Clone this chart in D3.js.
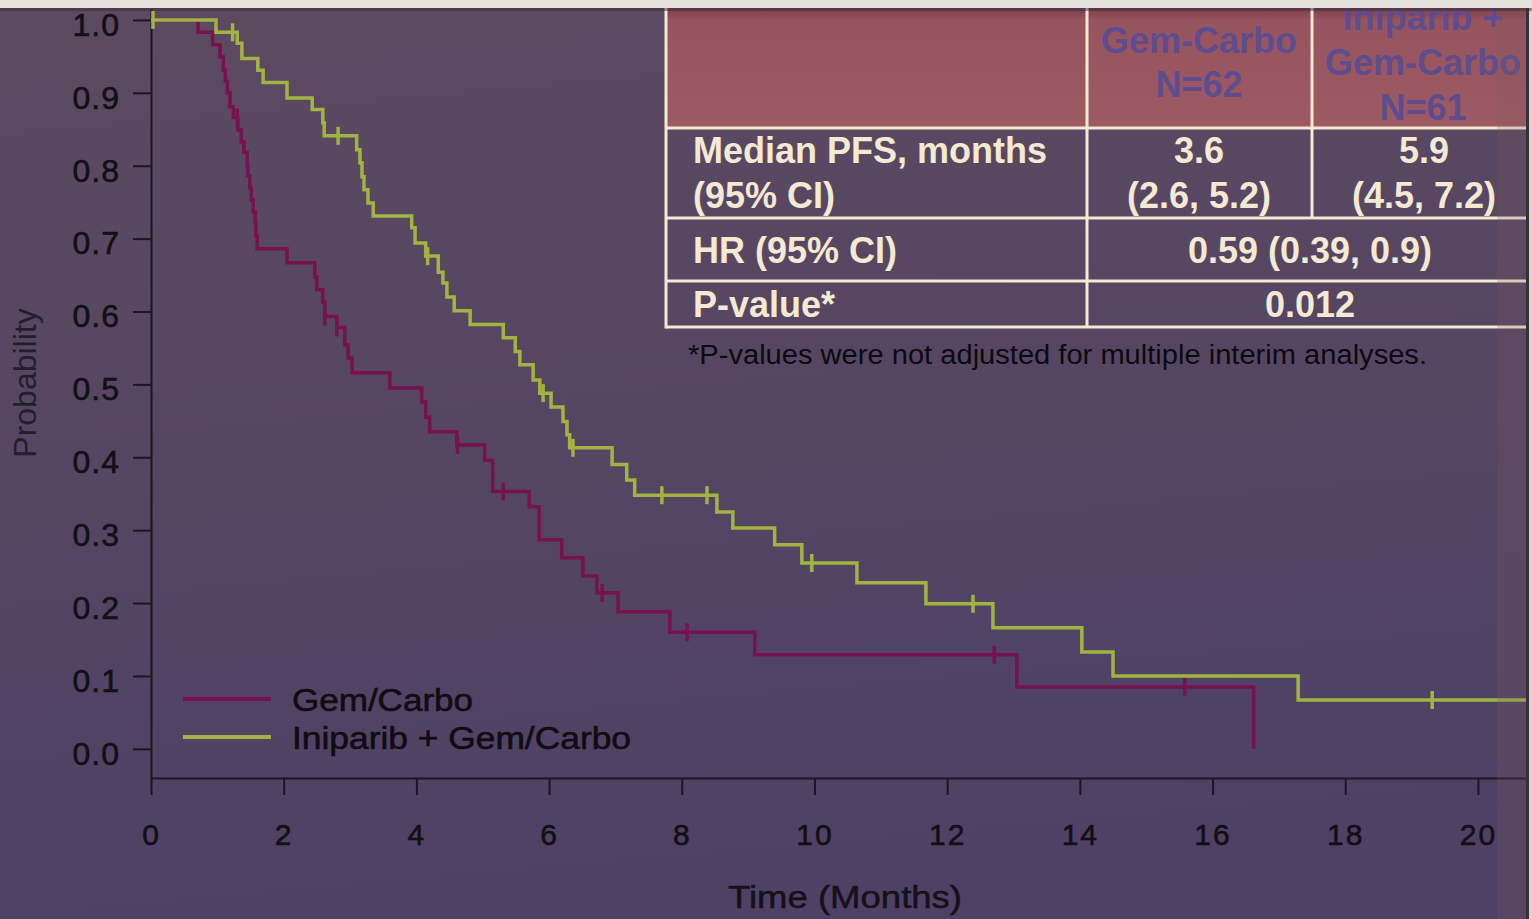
<!DOCTYPE html>
<html>
<head>
<meta charset="utf-8">
<script src="https://cdn.jsdelivr.net/npm/d3@7"></script>
<style>
  html, body { margin: 0; padding: 0; background: #55465f; overflow: hidden; }
  svg { display: block; font-family: "Liberation Sans", Arial, Helvetica, sans-serif; }
</style>
</head>
<body>
<svg id="chart"></svg>
<script>
// Gem/Carbo arm: month of each drop and the probability after it
var gemTimes = [0.71, 0.93, 1.04, 1.09, 1.12, 1.15, 1.19, 1.24, 1.31, 1.36, 1.40, 1.45, 1.46, 1.49, 1.51,
    1.54, 1.57, 1.58, 1.60, 2.05, 2.47, 2.50, 2.59, 2.62, 2.80, 2.92, 2.97, 3.03, 3.60, 4.08,
    4.14, 4.20, 4.61, 5.03, 5.15, 5.70, 5.85, 6.19, 6.51, 6.72, 7.04, 7.82, 9.10, 13.05, 16.62];
var gemSurv = [0.983, 0.966, 0.949, 0.931, 0.916, 0.900, 0.881, 0.866, 0.849, 0.833, 0.818, 0.801, 0.786, 0.770, 0.753,
    0.737, 0.722, 0.704, 0.686, 0.667, 0.647, 0.630, 0.613, 0.593, 0.578, 0.554, 0.536, 0.516, 0.495, 0.476,
    0.455, 0.435, 0.417, 0.396, 0.353, 0.332, 0.287, 0.262, 0.237, 0.214, 0.188, 0.160, 0.129, 0.085, 0];
var gemCensored = [1.30, 2.62, 2.80, 4.62, 5.31, 6.80, 8.08, 12.71, 15.58];

// Iniparib + Gem/Carbo arm
var iniTimes = [0.98, 1.30, 1.37, 1.61, 1.69, 2.05, 2.43, 2.59, 2.61, 3.10, 3.15, 3.18, 3.21, 3.27, 3.35,
    3.93, 3.98, 4.14, 4.33, 4.40, 4.46, 4.57, 4.81, 5.31, 5.49, 5.56, 5.76, 5.86, 6.03, 6.21,
    6.27, 6.31, 6.95, 7.17, 7.29, 8.53, 8.77, 9.40, 9.81, 10.64, 11.68, 12.69, 14.03, 14.50, 17.29];
var iniSurv = [0.983, 0.968, 0.947, 0.931, 0.914, 0.893, 0.877, 0.859, 0.841, 0.822, 0.804, 0.785, 0.767, 0.749, 0.731,
    0.715, 0.694, 0.676, 0.654, 0.639, 0.620, 0.601, 0.582, 0.564, 0.545, 0.527, 0.506, 0.488, 0.469, 0.449,
    0.431, 0.413, 0.390, 0.369, 0.348, 0.325, 0.303, 0.280, 0.255, 0.228, 0.199, 0.166, 0.133, 0.100, 0.067];
var iniCensored = [0.03, 1.23, 2.82, 4.17, 5.91, 6.36, 7.70, 8.38, 9.96, 12.39, 19.31];

var xTicks = [0, 2, 4, 6, 8, 10, 12, 14, 16, 18, 20];
var yTicks = [0, 0.1, 0.2, 0.3, 0.4, 0.5, 0.6, 0.7, 0.8, 0.9, 1.0];
var seriesNames = ["Gem/Carbo", "Iniparib + Gem/Carbo"];

// summary table text
var headGem = ["Gem-Carbo", "N=62"];
var headIni = ["Iniparib +", "Gem-Carbo", "N=61"];
var medianLabel = ["Median PFS, months", "(95% CI)"];
var medianGem = ["3.6", "(2.6, 5.2)"];
var medianIni = ["5.9", "(4.5, 7.2)"];
var hrLabel = "HR (95% CI)";
var hrValue = "0.59 (0.39, 0.9)";
var pLabel = "P-value*";
var pValue = "0.012";
var footnote = "*P-values were not adjusted for multiple interim analyses.";

var width = 1532,
    height = 919;
var gemColor = "#77114f",
    iniColor = "#a1b442";

var svg = d3.select("#chart")
    .attr("width", width)
    .attr("height", height);

var defs = svg.append("defs");
var bg = defs.append("linearGradient").attr("id", "bg")
    .attr("x1", 0).attr("y1", 0).attr("x2", 0.15).attr("y2", 1);
bg.append("stop").attr("offset", 0).attr("stop-color", "#5c4a60");
bg.append("stop").attr("offset", 1).attr("stop-color", "#4e4165");
var head = defs.append("linearGradient").attr("id", "head")
    .attr("x1", 0).attr("y1", 0).attr("x2", 0).attr("y2", 1);
head.append("stop").attr("offset", 0).attr("stop-color", "#7a3f4b");
head.append("stop").attr("offset", 0.1).attr("stop-color", "#96545f");
head.append("stop").attr("offset", 1).attr("stop-color", "#9e5a63");

svg.append("rect")
    .attr("width", width).attr("height", height)
    .attr("fill", "url(#bg)");

// scales
var x = d3.scaleLinear().domain([0, 20.8]).range([151, 1531]);
var y = d3.scaleLinear().domain([-0.04, 1.015]).range([778, 9]);

// axes
var xAxis = svg.append("g")
    .attr("transform", "translate(0,778)")
    .call(d3.axisBottom(x).tickValues(xTicks).tickSize(17).tickPadding(29).tickSizeOuter(0));
var yAxis = svg.append("g")
    .attr("transform", "translate(151,0)")
    .call(d3.axisLeft(y).tickValues(yTicks).tickFormat(d3.format(".1f"))
        .tickSize(18).tickPadding(13).tickSizeOuter(0));

[xAxis, yAxis].forEach(function(ax) {
    ax.select(".domain").attr("stroke", "#1b1620").attr("stroke-width", 2);
    ax.selectAll(".tick line").attr("stroke", "#1b1620").attr("stroke-width", 2);
    ax.selectAll(".tick text")
        .attr("fill", "#111014")
        .attr("stroke", "#111014")
        .attr("stroke-width", 0.6)
        .attr("font-family", "Liberation Sans, Arial, sans-serif");
});
xAxis.selectAll(".tick text").attr("font-size", 30).attr("letter-spacing", "2px");
yAxis.selectAll(".tick text").attr("font-size", 32).attr("letter-spacing", "1px").attr("dy", "0.48em");

svg.append("text")
    .attr("transform", "translate(36,383) rotate(-90)")
    .attr("text-anchor", "middle")
    .attr("font-size", 32)
    .attr("fill", "#231e2b")
    .text("Probability");

svg.append("text")
    .attr("x", 845).attr("y", 908)
    .attr("text-anchor", "middle")
    .attr("font-size", 31)
    .attr("textLength", 234)
    .attr("lengthAdjust", "spacingAndGlyphs")
    .attr("fill", "#141118")
    .attr("stroke", "#141118")
    .attr("stroke-width", 0.5)
    .text("Time (Months)");

// step curves
function stepPoints(times, surv, end) {
    var pts = [[0, 1]];
    times.forEach(function(t, i) { pts.push([t, surv[i]]); });
    if (end) pts.push([end, surv[surv.length - 1]]);
    return pts;
}

function survAt(times, surv, t) {
    var s = 1;
    times.forEach(function(d, i) { if (d <= t) s = surv[i]; });
    return s;
}

var line = d3.line()
    .x(function(d) { return x(d[0]); })
    .y(function(d) { return y(d[1]); })
    .curve(d3.curveStepAfter);

var arms = [
    {times: gemTimes, surv: gemSurv, cens: gemCensored, color: gemColor, end: null},
    {times: iniTimes, surv: iniSurv, cens: iniCensored, color: iniColor, end: 20.8}
];

arms.forEach(function(a) {
    svg.append("path")
        .attr("d", line(stepPoints(a.times, a.surv, a.end)))
        .attr("fill", "none")
        .attr("stroke", a.color)
        .attr("stroke-width", 3.5);

    svg.selectAll(null)
        .data(a.cens).enter()
        .append("line")
        .attr("x1", function(d) { return x(d); })
        .attr("x2", function(d) { return x(d); })
        .attr("y1", function(d) { return y(survAt(a.times, a.surv, d)) - 9; })
        .attr("y2", function(d) { return y(survAt(a.times, a.surv, d)) + 9; })
        .attr("stroke", a.color)
        .attr("stroke-width", 3.5);
});

// legend
var legendY = [699, 737];
seriesNames.forEach(function(name, i) {
    svg.append("line")
        .attr("x1", 183).attr("x2", 271)
        .attr("y1", legendY[i]).attr("y2", legendY[i])
        .attr("stroke", arms[i].color)
        .attr("stroke-width", 4);
    svg.append("text")
        .attr("x", 292).attr("y", legendY[i] + 12)
        .attr("font-size", 31)
        .attr("textLength", i == 0 ? 181 : 339)
        .attr("lengthAdjust", "spacingAndGlyphs")
        .attr("fill", "#0f0c12")
        .attr("stroke", "#0f0c12")
        .attr("stroke-width", 0.6)
        .text(name);
});

// summary table
var tL = 666, tR = 1528, c1 = 1087, c2 = 1312;
var rows = [8, 128, 218, 281, 327];
var cream = "#f4e9d2";

svg.append("rect")
    .attr("x", tL).attr("y", rows[0])
    .attr("width", tR - tL).attr("height", rows[1] - rows[0])
    .attr("fill", "url(#head)");

var table = svg.append("g").attr("stroke", cream).attr("stroke-width", 3);
rows.slice(1).forEach(function(r) {
    table.append("line").attr("x1", tL).attr("x2", tR).attr("y1", r).attr("y2", r);
});
table.append("line").attr("x1", tL).attr("x2", tL).attr("y1", rows[0]).attr("y2", rows[4] + 1.5);
table.append("line").attr("x1", c1).attr("x2", c1).attr("y1", rows[0]).attr("y2", rows[4]);
table.append("line").attr("x1", c2).attr("x2", c2).attr("y1", rows[0]).attr("y2", rows[2]);

function cellText(str, tx, ty, anchor, color) {
    svg.append("text")
        .attr("x", tx).attr("y", ty)
        .attr("text-anchor", anchor)
        .attr("font-size", 36)
        .attr("font-weight", "bold")
        .attr("fill", color)
        .text(str);
}

headGem.forEach(function(s, i) { cellText(s, 1199, [53, 97][i], "middle", "#5d4d8f"); });
headIni.forEach(function(s, i) { cellText(s, 1423, [30, 75, 120][i], "middle", "#5d4d8f"); });
medianLabel.forEach(function(s, i) { cellText(s, 693, [163, 208][i], "start", cream); });
medianGem.forEach(function(s, i) { cellText(s, 1199, [163, 208][i], "middle", cream); });
medianIni.forEach(function(s, i) { cellText(s, 1424, [163, 208][i], "middle", cream); });
cellText(hrLabel, 693, 263, "start", cream);
cellText(hrValue, 1310, 263, "middle", cream);
cellText(pLabel, 693, 317, "start", cream);
cellText(pValue, 1310, 317, "middle", cream);

svg.append("text")
    .attr("x", 688).attr("y", 364)
    .attr("font-size", 27)
    .attr("textLength", 739)
    .attr("lengthAdjust", "spacingAndGlyphs")
    .attr("fill", "#0c0a0e")
    .text(footnote);

// slide frame: top strip and right edge
svg.append("rect")
    .attr("x", 1497).attr("y", 0).attr("width", 30).attr("height", height)
    .attr("fill", "#7a5a60").attr("opacity", 0.22);
svg.append("rect")
    .attr("x", 1526).attr("y", 0).attr("width", 3).attr("height", height)
    .attr("fill", "#3a2e3b");
svg.append("rect")
    .attr("x", 1529).attr("y", 0).attr("width", 3).attr("height", height)
    .attr("fill", "#d9d5cd");
svg.append("rect")
    .attr("x", 0).attr("y", 8).attr("width", width).attr("height", 3)
    .attr("fill", "#3c2c3c").attr("opacity", 0.5);
svg.append("rect")
    .attr("x", 0).attr("y", 0).attr("width", width).attr("height", 8)
    .attr("fill", "#e4e1da");
</script>
</body>
</html>
